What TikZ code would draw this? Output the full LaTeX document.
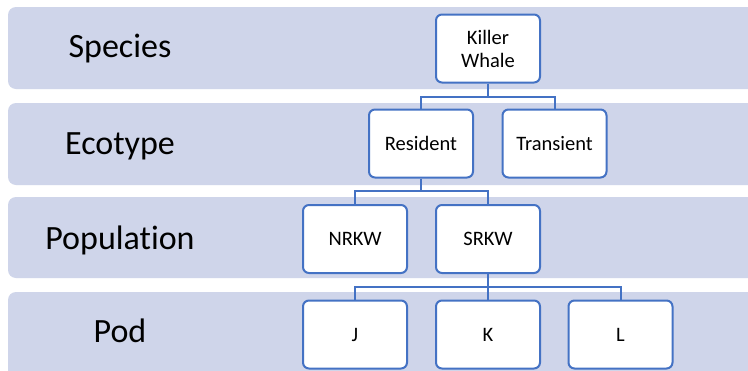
\documentclass[tikz,border=0pt]{standalone}
\usepackage{fontspec}
\setmainfont[Ligatures=NoCommon]{Carlito}
\definecolor{bandfill}{RGB}{207,213,234}
\definecolor{boxline}{RGB}{68,114,196}
\begin{document}
\begin{tikzpicture}[x=1pt,y=-1pt,
  band/.style={fill=bandfill,draw=none,rounded corners=8pt},
  lvl/.style={font=\fontsize{34}{40}\selectfont,anchor=base,inner sep=0pt},
  tbox/.style={draw=boxline,line width=2pt,fill=white,rounded corners=6pt,
    minimum width=104pt,minimum height=68pt,inner sep=0pt,align=center,
    font=\fontsize{20.5}{23}\selectfont},
  conn/.style={draw=boxline,line width=2pt}]
\useasboundingbox (0,0) rectangle (748,370);
\clip (0,0) rectangle (748,370);
\fill[white] (0,0) rectangle (748,370);
% bands
\path[band] (8,7) rectangle (770,89);
\path[band] (8,103) rectangle (770,185);
\path[band] (8,197) rectangle (770,278);
\path[band] (8,292) rectangle (770,390);
% level labels
\node[lvl] (lsp) at (120,57.5) {Species};
\node[lvl] (lec) at (120,154) {Ecotype};
\node[lvl] (lpo) at (120,249) {Population};
\node[lvl] (lpd) at (120,342) {Pod};
% boxes
\node[tbox] (kw) at (488,48.5) {Killer\\Whale};
\node[tbox] (res) at (421,143.5) {Resident};
\node[tbox] (tra) at (554.5,143.5) {Transient};
\node[tbox] (nrkw) at (355,239) {NRKW};
\node[tbox] (srkw) at (488,239) {SRKW};
\node[tbox] (j) at (355,334.5) {J};
\node[tbox] (k) at (488,334.5) {K};
\node[tbox] (l) at (620.5,334.5) {L};
% bus coordinates
\coordinate (b1) at (488,96.5);
\coordinate (b2) at (421,191);
\coordinate (b3) at (488,286.5);
% connectors
\draw[conn] (kw.south) -- (b1);
\draw[conn] (res.north) |- (b1) -| (tra.north);
\draw[conn] (res.south) -- (b2);
\draw[conn] (nrkw.north) |- (b2) -| (srkw.north);
\draw[conn] (srkw.south) -- (b3);
\draw[conn] (j.north) |- (b3) -| (l.north);
\draw[conn] (k.north) -- (b3);
\end{tikzpicture}
\end{document}
